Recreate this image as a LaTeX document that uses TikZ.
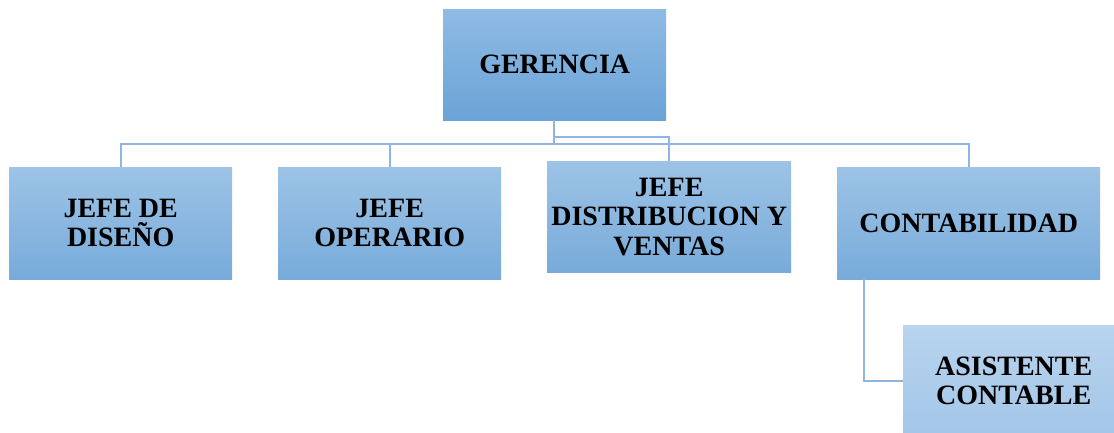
\documentclass[tikz,border=0pt]{standalone}
\usepackage{fontspec}
\setmainfont{Liberation Serif}
\definecolor{boxtop}{RGB}{157,195,230}
\definecolor{boxbot}{RGB}{120,171,218}
\definecolor{gertop}{RGB}{143,187,229}
\definecolor{gerbot}{RGB}{106,163,214}
\definecolor{astop}{RGB}{184,212,238}
\definecolor{asbot}{RGB}{163,198,232}
\definecolor{linec}{RGB}{143,181,224}
\tikzset{
  orgbox/.style={rectangle, inner sep=0pt, top color=boxtop, bottom color=boxbot, draw=none,
    align=center, font=\fontsize{28}{29.5}\selectfont\bfseries, anchor=north west},
  conn/.style={draw=linec, line width=1.8pt}
}
\begin{document}
\begin{tikzpicture}[x=1pt,y=-1pt]
\useasboundingbox (0,0) rectangle (1114,433);
\clip (0,0) rectangle (1114,433);
\node[orgbox, top color=gertop, bottom color=gerbot, minimum width=223pt, minimum height=111pt] (ger) at (443,9) {GERENCIA};
\node[orgbox, minimum width=223pt, minimum height=112pt] (dis) at (9,167) {JEFE DE\\DISEÑO};
\node[orgbox, minimum width=223pt, minimum height=112pt] (ope) at (278,167) {JEFE\\OPERARIO};
\node[orgbox, minimum width=244pt, minimum height=111pt] (dist) at (547,161) {JEFE\\DISTRIBUCION Y\\VENTAS};
\node[orgbox, minimum width=263pt, minimum height=112pt] (cont) at (837,167) {CONTABILIDAD};
\node[orgbox, top color=astop, bottom color=asbot, minimum width=221pt, minimum height=111pt] (asis) at (903,325) {ASISTENTE\\CONTABLE};
\coordinate (hub) at (554,144);
\draw[conn] (ger.south -| hub) -- (hub);
\draw[conn] (hub) -| (dis.north);
\draw[conn] (hub) -| (ope.north);
\draw[conn] (hub) -| (cont.north);
\draw[conn] (ger.south -| hub) ++(0,17) -| (dist.north);
\coordinate (cx) at (864,0);
\draw[conn] (cont.south -| cx) |- (asis.west);
\end{tikzpicture}
\end{document}
